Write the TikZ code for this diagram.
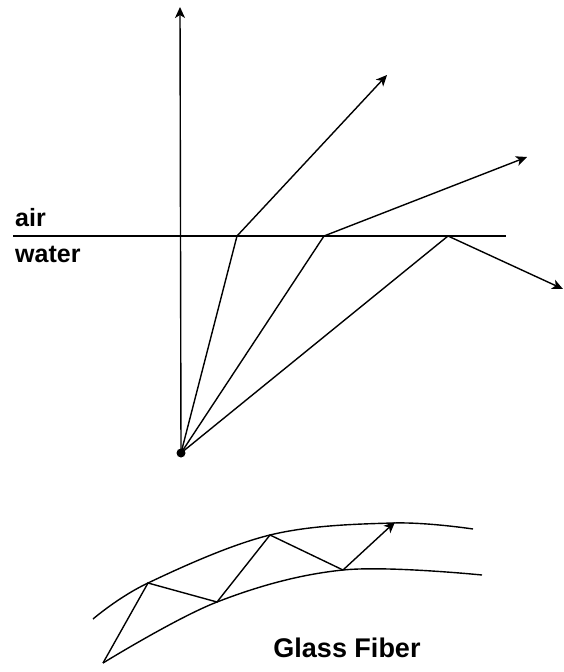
\documentclass[tikz,border=0pt]{standalone}
\usepackage{fontspec}
\setmainfont{Liberation Sans}
\usetikzlibrary{arrows.meta, positioning}

\begin{document}
\begin{tikzpicture}[
  x=1pt, y=-1pt,
  ray/.style={line width=1.4pt},
  arr/.style={line width=1.4pt, -{Stealth[length=11pt, width=10pt, inset=3pt]}},
  lbl/.style={font=\bfseries\fontsize{25}{25}\selectfont, anchor=base west, inner sep=0pt},
  src/.style={circle, fill, inner sep=0pt, minimum size=9pt}
]
\useasboundingbox (0,0) rectangle (564,672);

% refraction at the water surface
\node[src] (s) at (181,453) {};
\coordinate (top) at (180,7);
\coordinate (wl) at (13,236);
\coordinate (wr) at (506,236);
\coordinate (p1) at (237,236);
\coordinate (p2) at (324,236);
\coordinate (p3) at (448,236);
\coordinate (t1) at (387,75);
\coordinate (t2) at (527,157);
\coordinate (t3) at (563,289);
\draw[ray] (wl)--(wr);
\node[lbl] (air) at (15,226) {air};
\node[lbl] (water) at (15,262) {water};
\draw[arr] (s.center)--(top);
\draw[ray] (s.center)--(p1); \draw[arr] (p1)--(t1);
\draw[ray] (s.center)--(p2); \draw[arr] (p2)--(t2);
\draw[ray] (s.center)--(p3); \draw[arr] (p3)--(t3);

% glass fiber
\coordinate (o0) at (93,619);
\coordinate (f1) at (148,583);
\coordinate (f3) at (270,535);
\coordinate (o4) at (393,523);
\coordinate (o5) at (473,529);
\coordinate (f0) at (103,663);
\coordinate (f2) at (217,602);
\coordinate (f4) at (343,570);
\coordinate (i4) at (482,575);
\draw[ray] plot[smooth, tension=0.6] coordinates {(o0) (f1) (f3) (o4) (o5)};
\draw[ray] plot[smooth, tension=0.6] coordinates {(f0) (f2) (f4) (i4)};
\draw[ray] (f0)--(f1)--(f2)--(f3)--(f4);
\draw[arr] (f4)--(395,522);
\node[font=\bfseries\fontsize{27}{27}\selectfont, inner sep=0pt, anchor=base] (gf) at (347,657) {Glass Fiber};
\end{tikzpicture}
\end{document}
